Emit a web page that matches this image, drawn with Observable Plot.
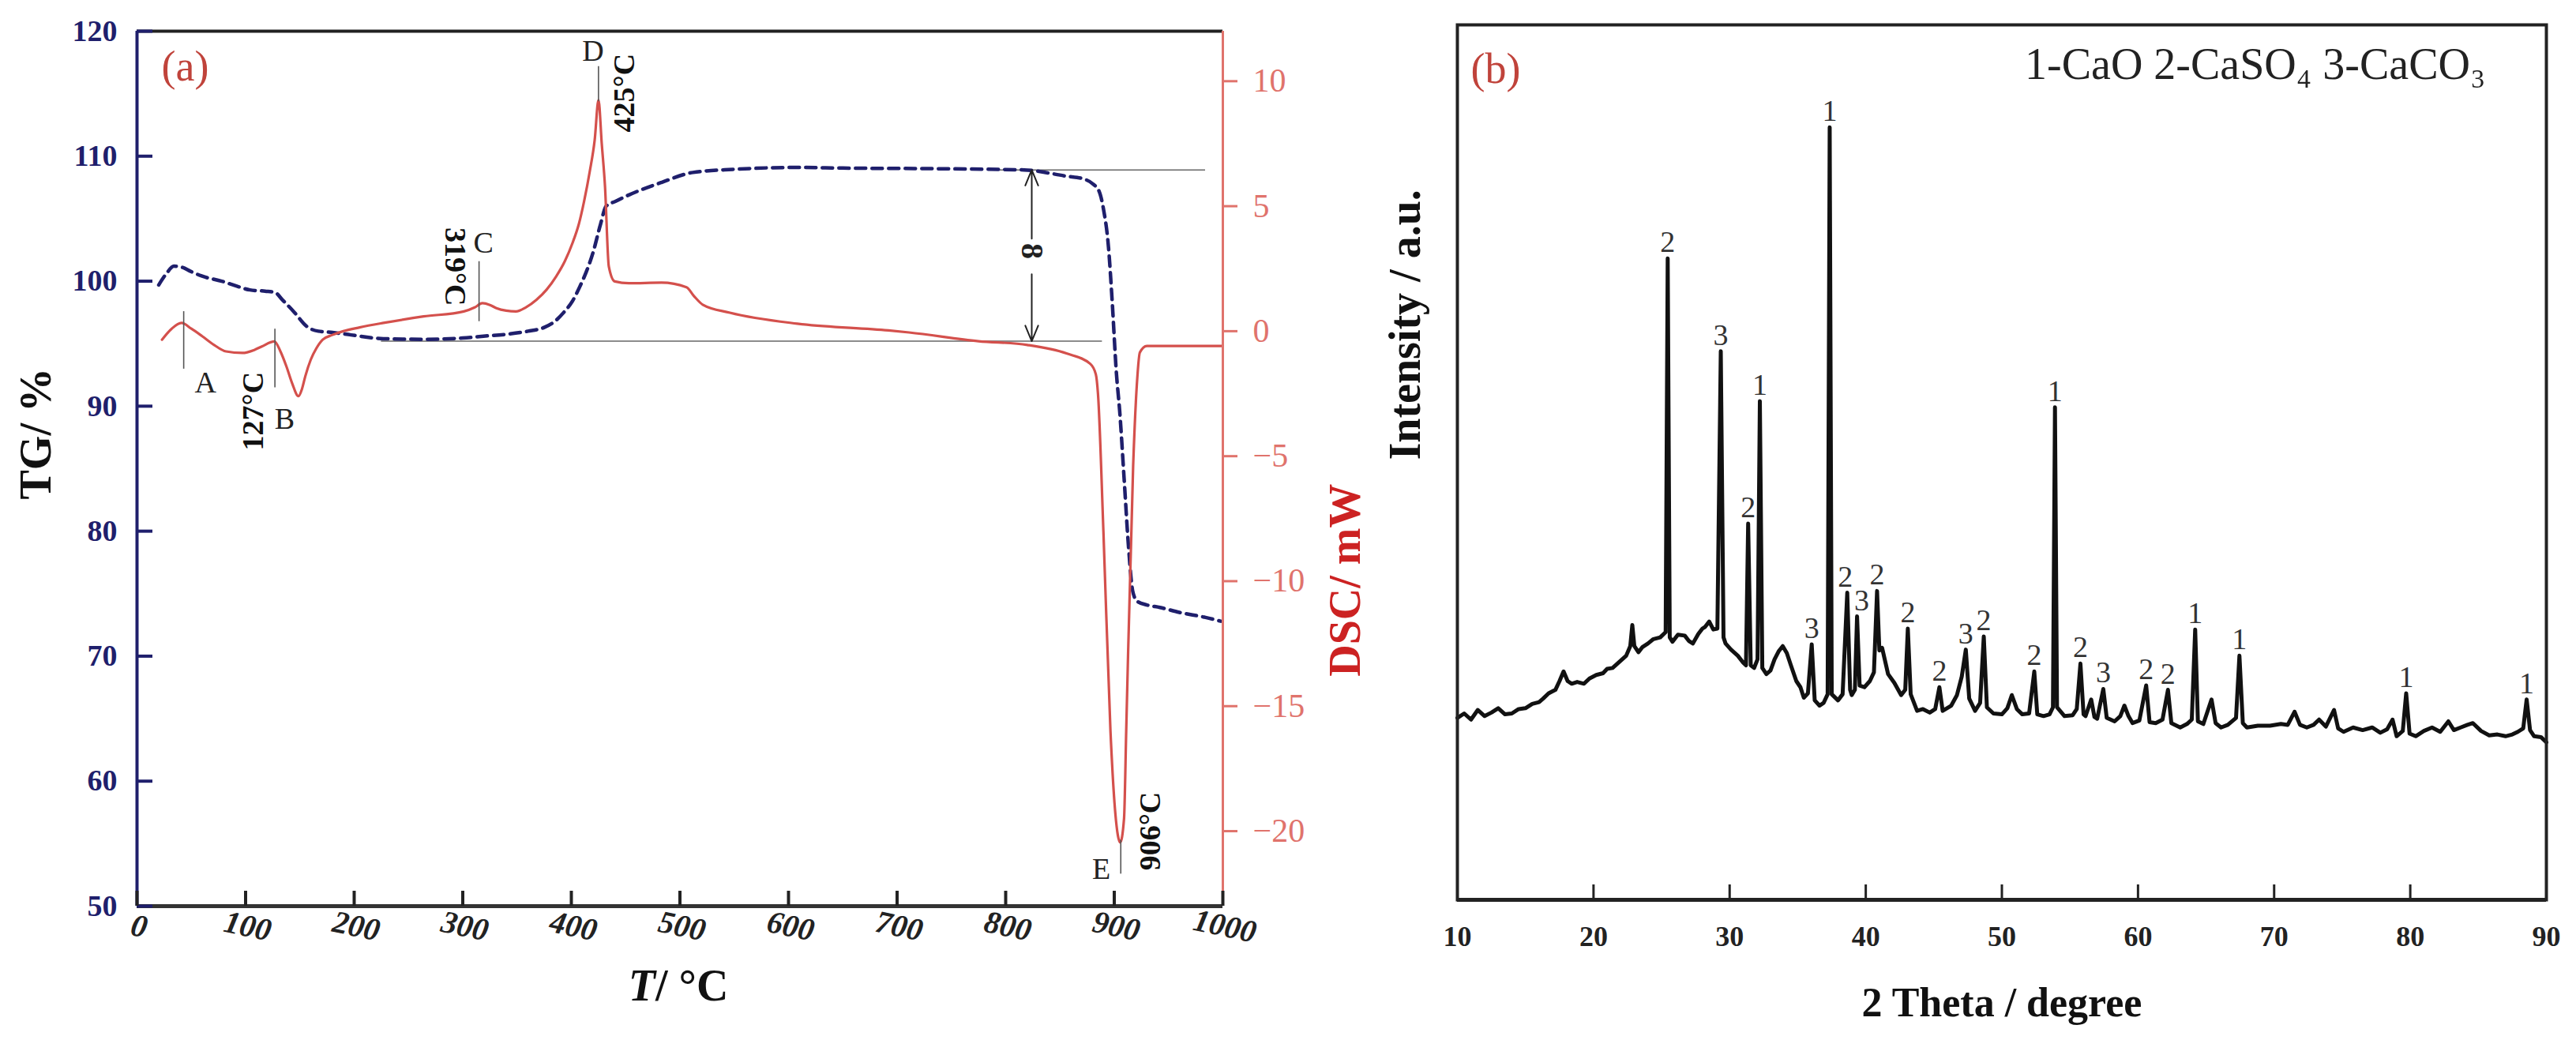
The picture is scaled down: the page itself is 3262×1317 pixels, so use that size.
<!DOCTYPE html>
<html><head><meta charset="utf-8">
<script src="https://cdn.jsdelivr.net/npm/d3@7"></script>
<script src="https://cdn.jsdelivr.net/npm/@observablehq/plot@0.6"></script>
<style>
body{margin:0;background:#fff;}
#wrap{display:flex;width:3262px;height:1317px;}
</style></head><body><div id="wrap"></div>
<script>
// ---------- (a) TG / DSC ----------
const tgTemp = [20,27,34,42,49,60,78,92,104,118,127,134,145,156,167,180,197,227,263,300,319,340,360,375,385,393,401,408,414,420,427,432,441,453,483,512,550,608,650,734,817,856,871,880,886,890,894.7,898,902,905,909,913,917,921,930,942,960,984,998];
const tgValue = [99.7,100.6,101.2,101.1,100.8,100.4,100.0,99.6,99.3,99.2,99.1,98.5,97.5,96.4,96.0,95.9,95.7,95.4,95.35,95.45,95.6,95.75,96.0,96.3,96.8,97.5,98.4,99.6,100.8,102.3,104.6,106.0,106.4,106.9,107.9,108.7,108.95,109.1,109.05,109.0,108.9,108.4,108.2,107.8,107.2,105.8,102.7,98.5,92.6,89.6,84.3,78.9,75.2,74.4,74.1,73.9,73.5,73.1,72.8];

const dscTemp = [23,32,41,50,60,71,82,97,108,115,126.5,132,137.6,143,148.7,152,155,160,165,171,180,190,205,227,264,301,311,318,325,331,340,349,358,368,377,386,394,401,407,412,417,421.5,425,428,431,434.5,440,453,483,506,513,521,546,608,692,711,775,820,856,878,883,885,890,896.5,901,905.5,909,911,917.4,921,923.6,930,1000];
const dscValue = [-0.34,0.1,0.33,0.1,-0.2,-0.55,-0.81,-0.87,-0.75,-0.61,-0.41,-0.8,-1.41,-2.1,-2.6,-2.3,-1.8,-1.14,-0.7,-0.34,-0.15,0.0,0.15,0.33,0.59,0.79,0.95,1.12,1.05,0.92,0.82,0.79,0.95,1.26,1.65,2.19,2.8,3.52,4.3,5.25,6.4,7.65,9.25,7.5,5.79,2.59,1.99,1.92,1.94,1.76,1.4,1.06,0.74,0.30,0.03,-0.05,-0.40,-0.55,-0.89,-1.31,-1.72,-2.5,-8.0,-16.0,-19.3,-20.45,-19.5,-16.0,-5.37,-2.0,-0.85,-0.59,-0.59];

const tgTicks = [50,60,70,80,90,100,110,120];
const dscTicks = [-20,-15,-10,-5,0,5,10];
const tempTicks = [0,100,200,300,400,500,600,700,800,900,1000];

// event markers (DSC, mW)
const markT = [43,127,315,425,906];
const markTop = [0.8,0.1,2.8,10.6,-20.35];
const markBottom = [-1.5,-2.25,0.4,9.2,-21.7];
const letterText = ["A","B","C","D","E"];
const letterT = [63,136,319,420,888];
const letterDSC = [-2.46,-3.92,3.13,10.8,-21.9];
const tempText = ["127°C","319°C","425°C","906°C"];
const tempT = [107,293,449,933];
const tempDSC = [-3.2,2.58,9.53,-20.0];
const tempRot = [-90,90,-90,-90];

// mass change (TG, %)
const plateauTG = [108.9, 95.2];
const plateauFrom = [790, 225];
const plateauTo = [984, 889];
const arrowT = 824;
const arrowFrom = [103.4, 100.56];
const arrowTo = [108.9, 95.2];
const gapLabel = "8";
const gapLabelTG = 102.4;

// ---------- (b) XRD ----------
const xrdTheta = [10.0,10.5,11.0,11.5,12.0,12.5,13.0,13.5,14.0,14.5,15.0,15.5,16.0,16.3,16.7,17.2,17.5,17.8,18.1,18.4,18.8,19.3,19.7,20.2,20.7,21.0,21.4,21.9,22.4,22.7,22.85,23.0,23.3,23.6,24.0,24.4,24.9,25.3,25.45,25.6,25.8,26.2,26.7,27.0,27.3,27.7,28.0,28.2,28.5,28.8,29.1,29.35,29.55,29.7,30.1,30.6,31.0,31.2,31.36,31.55,31.8,32.05,32.22,32.4,32.7,33.0,33.3,33.6,33.9,34.2,34.5,34.9,35.2,35.45,35.75,36.03,36.25,36.6,36.9,37.2,37.35,37.5,37.96,38.3,38.64,38.85,38.97,39.2,39.36,39.55,39.9,40.3,40.6,40.83,41.0,41.2,41.64,42.1,42.6,42.9,43.09,43.3,43.77,44.2,44.7,45.1,45.41,45.65,46.28,46.7,47.05,47.35,47.6,48.03,48.4,48.67,48.9,49.38,50.0,50.4,50.73,51.1,51.5,52.0,52.38,52.6,53.06,53.5,53.75,53.9,54.05,54.6,55.2,55.5,55.77,56.0,56.15,56.56,56.8,57.0,57.45,57.7,58.28,58.7,59.0,59.3,59.6,60.1,60.6,60.85,61.3,61.8,62.2,62.45,63.1,63.6,63.95,64.2,64.4,64.8,65.4,65.7,66.1,66.6,67.2,67.45,67.7,68.0,68.8,69.7,70.5,71.0,71.5,71.9,72.4,72.9,73.3,73.8,74.4,74.7,75.1,75.8,76.5,77.2,77.8,78.3,78.7,79.0,79.45,79.7,79.95,80.4,81.0,81.6,82.2,82.8,83.2,83.7,84.2,84.6,85.2,85.8,86.4,87.0,87.5,87.9,88.3,88.55,88.8,89.1,89.6,90.0];
const xrdIntensity = [20.8,21.3,20.6,21.7,21.0,21.4,21.9,21.2,21.3,21.8,21.9,22.4,22.6,23.0,23.6,24.0,25.0,26.1,25.0,24.7,24.9,24.7,25.3,25.7,25.9,26.4,26.5,27.2,27.9,29.0,31.4,29.0,28.3,28.9,29.3,29.8,30.0,30.6,73.3,30.0,29.5,30.3,30.2,29.6,29.3,30.4,31.0,31.2,31.8,30.9,31.0,62.7,30.0,29.3,28.6,27.9,27.1,26.8,43.0,26.8,26.5,27.5,57.0,26.5,25.8,26.2,27.5,28.4,29.0,28.2,26.8,25.0,24.3,23.1,23.6,29.2,22.8,22.2,22.5,23.5,88.3,23.5,22.8,23.5,35.1,24.0,23.4,24.0,32.4,24.5,24.3,25.0,26.0,35.3,28.5,28.8,25.8,24.8,23.4,24.0,31.0,23.5,21.6,21.8,21.4,21.8,24.3,21.6,22.2,23.4,25.5,28.6,23.0,21.6,22.5,30.1,22.0,21.3,21.2,21.9,23.4,21.8,21.2,21.3,26.1,21.2,21.0,21.2,22.0,56.3,22.0,21.0,21.1,21.8,27.0,21.2,21.0,22.9,20.9,20.7,24.1,20.8,20.4,21.0,22.2,21.0,20.2,20.5,24.5,20.3,20.2,20.6,24.0,20.2,19.7,20.1,20.6,30.9,20.4,20.1,22.9,20.2,19.7,20.0,20.8,27.9,20.2,19.7,19.9,19.9,20.1,20.0,21.5,20.0,19.7,20.0,20.6,19.8,21.7,19.6,19.2,19.7,19.4,19.7,19.1,19.5,20.6,18.7,19.3,23.6,19.0,18.7,19.3,19.7,19.2,20.4,19.4,19.7,20.0,20.2,19.3,18.8,18.9,18.7,18.9,19.2,19.6,22.9,19.4,18.7,18.6,18.0];
const xrdTicks = [10,20,30,40,50,60,70,80,90];
// phase labels: where each label sits (2θ) and the peak top it marks
const peakTheta = [25.45,29.35,31.36,32.22,36.03,37.35,38.5,39.7,40.83,43.09,45.41,47.35,48.67,52.38,53.9,55.77,57.45,60.6,62.2,64.2,67.45,79.7,88.55];
const peakPhase = ["2","3","2","1","3","1","2","3","2","2","2","3","2","2","1","2","3","2","2","1","1","1","1"];
const peakTop = [73.3,62.7,43.0,57.0,29.2,88.3,35.1,32.4,35.3,31.0,24.3,28.6,30.1,26.1,56.3,27.0,24.1,24.5,24.0,30.9,27.9,23.6,22.9];
const legendText = "1-CaO 2-CaSO\u2084 3-CaCO\u2083";

// ---------- build ----------
const FONT = "Liberation Serif, Times New Roman, serif";
const NAVY = "#1f1f6c", RED = "#d4504c", SALMON = "#e0736c", LABELRED = "#c0433b";
const toY = d => 96 + 2 * d;            // DSC (mW) onto the TG axis position
const fmtDSC = v => { const d = Math.round((v - 96) / 2); return d < 0 ? "\u2212" + Math.abs(d) : String(d); };

const tg = tgTemp.map((t, i) => ({t, v: tgValue[i]}));
const dsc = dscTemp.map((t, i) => ({t, v: dscValue[i]}));
const markers = markT.map((t, i) => ({t, a: markTop[i], b: markBottom[i]}));
const letters = letterText.map((s, i) => ({s, t: letterT[i], v: letterDSC[i]}));
const temps = tempText.map((s, i) => ({s, t: tempT[i], v: tempDSC[i], r: tempRot[i]}));
const plateaus = plateauTG.map((y, i) => ({y, x1: plateauFrom[i], x2: plateauTo[i]}));
const arrows = arrowFrom.map((y1, i) => ({x: arrowT, y1, y2: arrowTo[i]}));

const left = Plot.plot({
  width: 1740, height: 1317,
  marginLeft: 173, marginRight: 192, marginTop: 39, marginBottom: 170,
  style: {fontFamily: FONT, background: "transparent", overflow: "visible"},
  x: {domain: [0, 1000]},
  y: {domain: [50, 120]},
  marks: [
    Plot.ruleY(plateaus, {y: "y", x1: "x1", x2: "x2", stroke: "#666", strokeWidth: 1.6}),
    Plot.line(tg, {x: "t", y: "v", stroke: NAVY, strokeWidth: 4.5, strokeDasharray: "13,8", curve: "monotone-x"}),
    Plot.line(dsc, {x: "t", y: d => toY(d.v), stroke: RED, strokeWidth: 3.2, curve: "monotone-x"}),
    Plot.link(markers, {x1: "t", x2: "t", y1: d => toY(d.a), y2: d => toY(d.b), stroke: "#555", strokeWidth: 1.6}),
    Plot.arrow(arrows, {x1: "x", x2: "x", y1: "y1", y2: "y2", stroke: "#222", strokeWidth: 2, headLength: 16, headAngle: 45}),
    Plot.text([gapLabel], {x: () => arrowT, y: () => gapLabelTG, text: d => d, rotate: 90, fontSize: 40, fontWeight: "bold", fill: "#222"}),
    Plot.text(letters, {x: "t", y: d => toY(d.v), text: "s", fontSize: 38, fill: "#222", lineAnchor: "bottom"}),
    Plot.text(temps, {x: "t", y: d => toY(d.v), text: "s", rotate: "r", fontSize: 38, fontWeight: "bold", fill: "#111"}),
    Plot.ruleY([120], {stroke: "#222", strokeWidth: 4}),
    Plot.ruleX([0], {stroke: NAVY, strokeWidth: 4}),
    Plot.ruleX([1000], {stroke: SALMON, strokeWidth: 3}),
    Plot.ruleY([50], {stroke: "#333", strokeWidth: 5}),
    Plot.axisY(tgTicks, {anchor: "left", tickSize: -20, tickPadding: 45, color: NAVY, strokeWidth: 4, fontSize: 38, fontWeight: "bold", label: null}),
    Plot.axisY(dscTicks.map(toY), {anchor: "right", tickSize: 18, tickPadding: 20, color: SALMON, strokeWidth: 3, fontSize: 42, tickFormat: fmtDSC, label: null}),
    Plot.axisX(tempTicks, {anchor: "bottom", tickSize: -19, color: "#222", strokeWidth: 4, tickFormat: () => "", label: null}),
    Plot.text(tempTicks, {x: d => d, frameAnchor: "bottom", dy: 38, text: d => String(d), rotate: 12, fontSize: 40, fontWeight: "bold", fontStyle: "italic", fill: "#222"}),
    Plot.text(["T"], {frameAnchor: "bottom", dx: -31, dy: 119, textAnchor: "end", lineAnchor: "bottom", fontSize: 56, fontWeight: "bold", fontStyle: "italic", fill: "#111"}),
    Plot.text(["/ °C"], {frameAnchor: "bottom", dx: -31, dy: 119, textAnchor: "start", lineAnchor: "bottom", fontSize: 56, fontWeight: "bold", fill: "#111"}),
    Plot.text(["TG/ %"], {frameAnchor: "left", dx: -127, dy: 39, rotate: -90, fontSize: 56, fontWeight: "bold", fill: "#111"}),
    Plot.text(["DSC/ mW"], {frameAnchor: "right", dx: 156, dy: 19, rotate: -90, fontSize: 56, fontWeight: "bold", fill: "#cc2222"}),
    Plot.text(["(a)"], {frameAnchor: "top-left", dx: 31, dy: 24, lineAnchor: "top", textAnchor: "start", fontSize: 54, fill: LABELRED})
  ]
});

const xrd = xrdTheta.map((x, i) => ({x, y: xrdIntensity[i]}));
const peaks = peakTheta.map((x, i) => ({x, y: peakTop[i], s: peakPhase[i]}));

const right = Plot.plot({
  width: 1522, height: 1317,
  marginLeft: 105, marginRight: 38, marginTop: 31, marginBottom: 178,
  style: {fontFamily: FONT, background: "transparent", overflow: "visible"},
  x: {domain: [10, 90]},
  y: {domain: [0, 100], axis: null},
  marks: [
    Plot.line(xrd, {x: "x", y: "y", stroke: "#111", strokeWidth: 5, strokeLinejoin: "round"}),
    Plot.text(peaks, {x: "x", y: "y", text: "s", dy: -8, lineAnchor: "bottom", fontSize: 38, fill: "#333"}),
    Plot.frame({stroke: "#222", strokeWidth: 4}),
    Plot.ruleY([0], {stroke: "#222", strokeWidth: 5}),
    Plot.axisX(xrdTicks, {anchor: "bottom", tickSize: -19, tickPadding: 52, color: "#222", strokeWidth: 3, fontSize: 36, fontWeight: "bold", label: null}),
    Plot.text(["2 Theta / degree"], {frameAnchor: "bottom", dy: 147, lineAnchor: "bottom", fontSize: 52, fontWeight: "bold", fill: "#111"}),
    Plot.text(["Intensity / a.u."], {frameAnchor: "left", dx: -65, dy: -3, rotate: -90, fontSize: 56, fontWeight: "bold", fill: "#111"}),
    Plot.text(["(b)"], {frameAnchor: "top-left", dx: 17, dy: 35, lineAnchor: "top", textAnchor: "start", fontSize: 54, fill: LABELRED}),
    Plot.text([legendText], {frameAnchor: "top-right", dx: -77, dy: 68, textAnchor: "end", lineAnchor: "bottom", fontSize: 56, fill: "#222"})
  ]
});

document.getElementById("wrap").append(left, right);
</script></body></html>
